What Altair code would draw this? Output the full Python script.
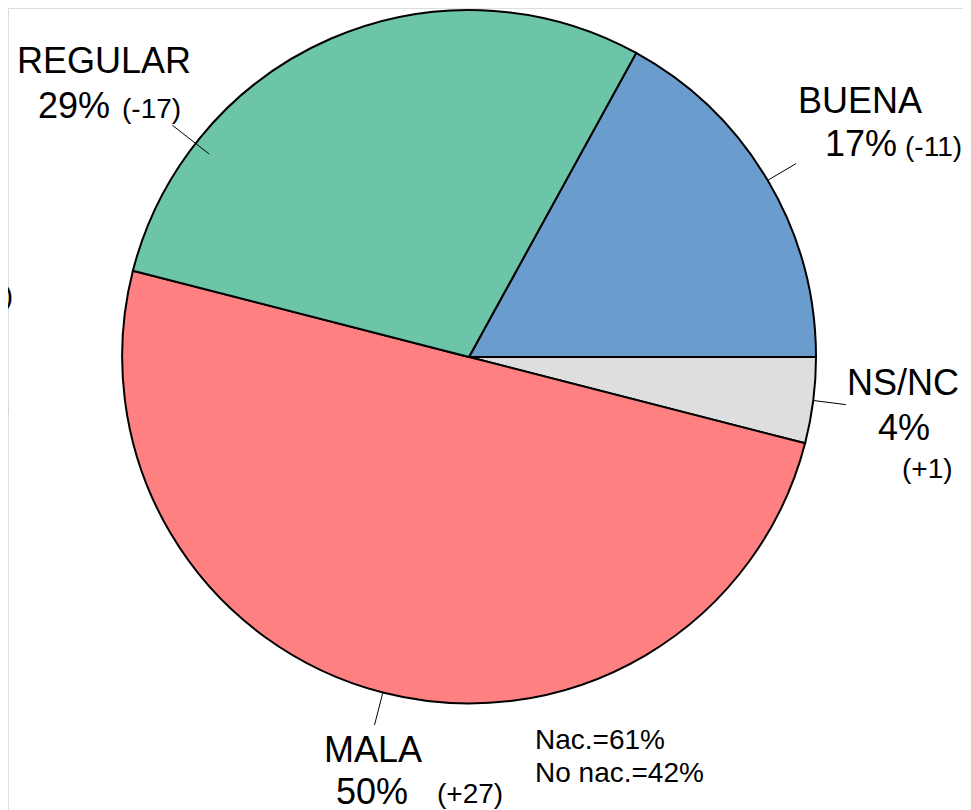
import math
import altair as alt
import pandas as pd

# ---- data ----
categories = ["BUENA", "NS/NC", "MALA", "REGULAR"]
shares = [17, 4, 50, 29]
share_labels = ["17%", "4%", "50%", "29%"]
changes = ["(-11)", "(+1)", "(+27)", "(-17)"]
note_lines = ["Nac.=61%", "No nac.=42%"]
edge_fragments = ["9)", ")"]

# ---- styles / layout ----
colors = ["#6A9CCD", "#DEDEDE", "#FF8080", "#6CC5A8"]
FONT = "Liberation Sans"
W, H = 955, 802
PAGE = 8                    # page margin
CXP, CYP, R = 469, 357, 347  # pie centre / radius on the page
CX, CY = CXP - PAGE, CYP - PAGE

def to_unit(px, py):
    return (px - CXP) / R, (CYP - py) / R

# pie starts so that BUENA ends at 3 o'clock
start_deg = 90 - shares[0] * 360 / sum(shares)
a0 = math.radians(start_deg)

pie_df = pd.DataFrame({"cat": categories, "share": shares, "ord": list(range(len(categories)))})

arc = alt.Chart(pie_df).mark_arc(radius=R, stroke="black", strokeWidth=2).encode(
    theta=alt.Theta("share:Q", stack=True, scale=alt.Scale(range=[a0, a0 + 2 * math.pi])),
    order=alt.Order("ord:Q"),
    color=alt.Color("cat:N", scale=alt.Scale(domain=categories, range=colors), legend=None),
    x=alt.value(CX),
    y=alt.value(CY),
)

# leader lines at the slice mid angles (REGULAR's label was moved)
leader_override = {"REGULAR": (308.0, 0.95, 1.085)}
rows = []
cum = 0.0
for c, s in zip(categories, shares):
    mid = start_deg + (cum + s / 2) * 360 / sum(shares)
    cum += s
    ang, r1, r2 = leader_override.get(c, (mid, 1.0, 1.095))
    a = math.radians(ang)
    rows.append({"cat": c,
                 "x": r1 * math.sin(a), "y": r1 * math.cos(a),
                 "x2": r2 * math.sin(a), "y2": r2 * math.cos(a)})
lead_df = pd.DataFrame(rows)

xs = alt.Scale(domain=[-1, 1], range=[CX - R, CX + R], nice=False, zero=False)
ys = alt.Scale(domain=[-1, 1], range=[CY + R, CY - R], nice=False, zero=False)

leaders = alt.Chart(lead_df).mark_rule(color="black", strokeWidth=1).encode(
    x=alt.X("x:Q", scale=xs, axis=None),
    y=alt.Y("y:Q", scale=ys, axis=None),
    x2="x2:Q",
    y2="y2:Q",
)

# label placement (page px of left edge / baseline)
label_pos = {
    "REGULAR": [(17, 73), (38, 118), (122, 118)],
    "BUENA": [(798, 113), (825, 156), (905, 156)],
    "NS/NC": [(847, 395), (878, 440), (902, 478)],
    "MALA": [(324, 762), (336, 804), (437, 803)],
}
note_pos = [(535, 749), (535, 782)]
frag_pos = [(13, 305, 28), (10, 419, 36)]

trows = []
for c, sl, ch in zip(categories, share_labels, changes):
    p = label_pos[c]
    for txt, (px, py), fs in zip([c, sl, ch], p, [36, 36, 28]):
        ux, uy = to_unit(px, py)
        trows.append({"t": txt, "x": ux, "y": uy, "fs": fs})
for txt, (px, py) in zip(note_lines, note_pos):
    ux, uy = to_unit(px, py)
    trows.append({"t": txt, "x": ux, "y": uy, "fs": 28})
text_df = pd.DataFrame(trows)

frows = []
for txt, (px, py, fs) in zip(edge_fragments, frag_pos):
    ux, uy = to_unit(px, py)
    frows.append({"t": txt, "x": ux, "y": uy, "fs": fs})
frag_df = pd.DataFrame(frows)

labels = alt.Chart(text_df).mark_text(align="left", baseline="alphabetic", font=FONT, color="black").encode(
    x=alt.X("x:Q", scale=xs, axis=None),
    y=alt.Y("y:Q", scale=ys, axis=None),
    text="t:N",
    size=alt.Size("fs:Q", scale=None, legend=None),
)

frags = alt.Chart(frag_df).mark_text(align="right", baseline="alphabetic", font=FONT, color="black").encode(
    x=alt.X("x:Q", scale=xs, axis=None),
    y=alt.Y("y:Q", scale=ys, axis=None),
    text="t:N",
    size=alt.Size("fs:Q", scale=None, legend=None),
)

chart = alt.layer(arc, leaders, labels, frags).properties(
    width=W, height=H, padding=0, autosize=alt.AutoSizeParams(type="none"),
).configure_view(stroke=None).configure(background="white")

chart.save("out.html", embed_options={"renderer": "svg", "actions": False})
